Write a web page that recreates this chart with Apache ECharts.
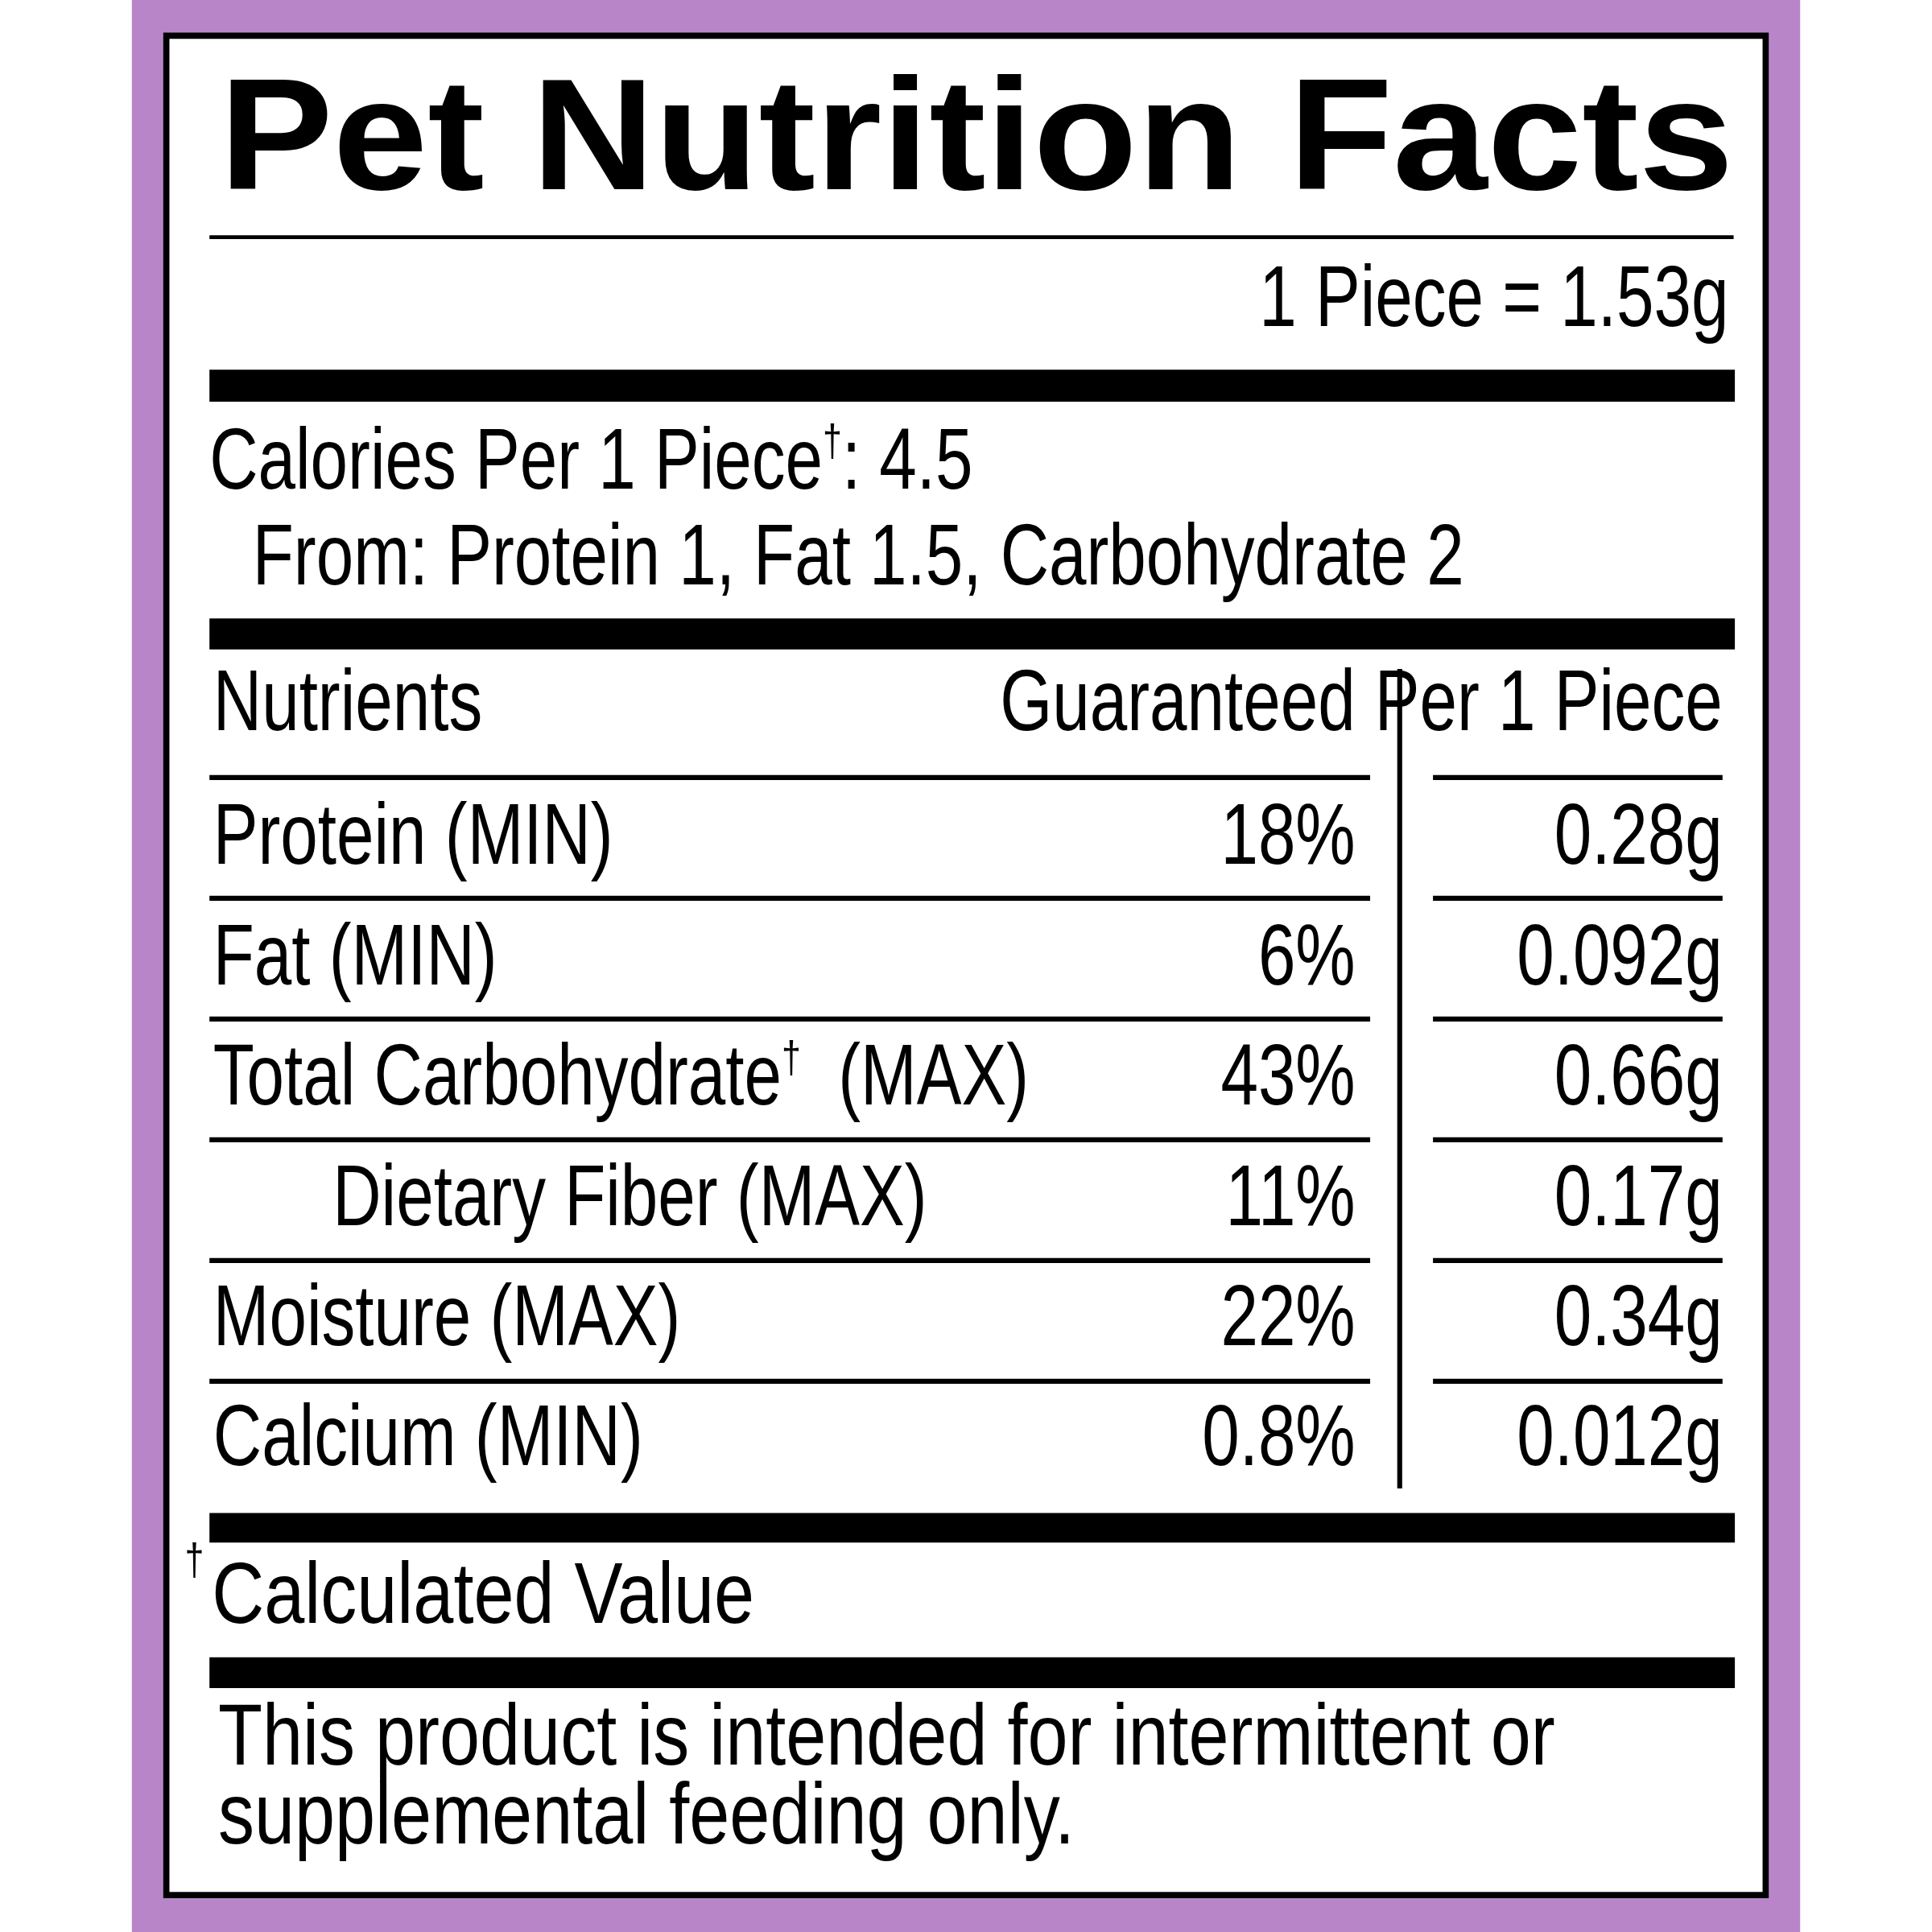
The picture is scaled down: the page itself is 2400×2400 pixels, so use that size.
<!DOCTYPE html>
<html>
<head>
<meta charset="utf-8">
<script src="https://cdn.jsdelivr.net/npm/echarts@6/dist/echarts.min.js"></script>
<style>html,body{margin:0;padding:0;background:#fff}#main{width:2400px;height:2400px}</style>
</head>
<body>
<div id="main"></div>
<script>
// label content
var title = 'Pet Nutrition Facts';
var serving = '1 Piece = 1.53g';
var caloriesLine = 'Calories Per 1 Piece{sup|\u2020}: 4.5';
var fromLine = 'From: Protein 1, Fat 1.5, Carbohydrate 2';
var headers = ['Nutrients', 'Guaranteed', 'Per 1 Piece'];
var nutrients = ['Protein (MIN)', 'Fat (MIN)', 'Total Carbohydrate{sup|\u2020}  (MAX)', 'Dietary Fiber (MAX)', 'Moisture (MAX)', 'Calcium (MIN)'];
var indented = [false, false, false, true, false, false];
var guaranteed = ['18%', '6%', '43%', '11%', '22%', '0.8%'];
var perPiece = ['0.28g', '0.092g', '0.66g', '0.17g', '0.34g', '0.012g'];
var footnote = 'Calculated Value';
var disclaimer = ['This product is intended for intermittent or', 'supplemental feeding only.'];

var s = 2400 / 1568;
var FONT = '"Liberation Sans", sans-serif';
var FS = 70;
var NARROW = 0.78;

function txt(x, y, t, align, sx) {
  return {
    type: 'text', x: x, y: y, scaleX: sx || NARROW,
    style: {
      text: t, fill: '#000', font: FS + 'px ' + FONT, align: align || 'left', verticalAlign: 'middle',
      rich: { sup: { fontSize: 36, fontFamily: 'Liberation Sans', verticalAlign: 'top', padding: [0, 0, 28, 0] } }
    }
  };
}
function rect(x, y, w, h, fill) {
  return { type: 'rect', shape: { x: x, y: y, width: w, height: h }, style: { fill: fill || '#000' } };
}

var els = [];
els.push(rect(107, 0, 1354, 1568, '#B886C8'));
els.push({ type: 'rect', shape: { x: 135, y: 29, width: 1298, height: 1509 }, style: { fill: '#fff', stroke: '#000', lineWidth: 5 } });
els.push({
  type: 'text', x: 178, y: 118, scaleX: 1.08,
  style: { text: title, fill: '#000', font: '900 128px "Liberation Sans", sans-serif', align: 'left', verticalAlign: 'middle' }
});
els.push(rect(170, 191, 1237, 3));
els.push(txt(1403, 245, serving, 'right'));
els.push(rect(170, 300, 1238, 26));
els.push(txt(170, 377, caloriesLine, 'left'));
els.push(txt(205, 455, fromLine, 'left'));
els.push(rect(170, 502, 1238, 25));
els.push(txt(173, 573, headers[0], 'left'));
els.push(txt(1100, 573, headers[1], 'right'));
els.push(txt(1398, 573, headers[2], 'right'));
els.push(rect(1134, 543, 4, 665));
for (var i = 0; i < nutrients.length; i++) {
  var lineY = 629 + i * 98;
  els.push(rect(170, lineY, 942, 4));
  els.push(rect(1163, lineY, 235, 4));
  var cy = 682 + i * 97.6;
  els.push(txt(indented[i] ? 270 : 173, cy, nutrients[i], 'left'));
  els.push(txt(1100, cy, guaranteed[i], 'right'));
  els.push(txt(1398, cy, perPiece[i], 'right'));
}
els.push(rect(170, 1228, 1238, 24));
els.push(txt(150, 1282, '{sup|\u2020}', 'left'));
els.push(txt(172, 1298, footnote, 'left', 0.84));
els.push(rect(170, 1345, 1238, 25));
els.push(txt(177, 1413, disclaimer[0], 'left', 0.84));
els.push(txt(177, 1477, disclaimer[1], 'left', 0.84));

var chart = echarts.init(document.getElementById('main'));
chart.setOption({
  animation: false,
  graphic: [{ type: 'group', x: 0, y: 0, scaleX: s, scaleY: s, children: els }]
});
</script>
</body>
</html>
